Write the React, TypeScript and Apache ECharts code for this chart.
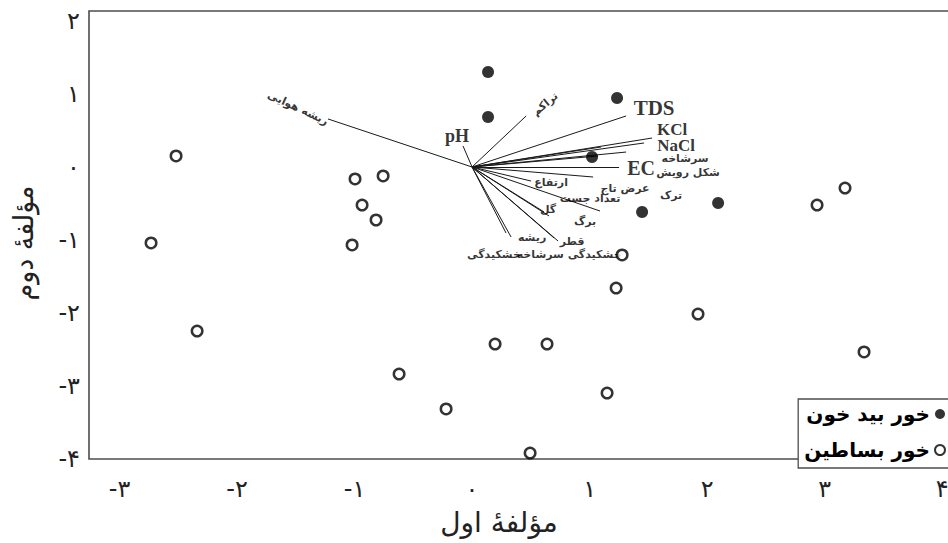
import React, { useEffect, useRef } from 'react';
import * as echarts from 'echarts';

const xTicks = [-3, -2, -1, 0, 1, 2, 3, 4];
const yTicks = [-4, -3, -2, -1, 0, 1, 2];
const seriesNames = ['خور بید خون', 'خور بساطین'];
const xTitle = 'مؤلفهٔ اول';
const yTitle = 'مؤلفهٔ دوم';

// خور بید خون (filled)
const bidKhun: [number, number][] = [
  [0.136, 1.301],
  [0.136, 0.685],
  [1.234, 0.945],
  [1.021, 0.137],
  [1.447, -0.616],
  [2.094, -0.493],
];

// خور بساطین (open)
const basatin: [number, number][] = [
  [-2.519, 0.151],
  [-2.732, -1.041],
  [-2.34, -2.247],
  [-0.996, -0.164],
  [-0.757, -0.123],
  [-0.936, -0.521],
  [-0.817, -0.726],
  [-1.021, -1.068],
  [1.277, -1.205],
  [1.226, -1.658],
  [1.923, -2.014],
  [0.196, -2.425],
  [0.638, -2.425],
  [-0.621, -2.836],
  [1.149, -3.096],
  [-0.221, -3.315],
  [0.494, -3.918],
  [2.936, -0.521],
  [3.174, -0.288],
  [3.336, -2.534],
];

const variableNames = [
  'ریشه هوایی', 'pH', 'تراکم', 'TDS', 'KCl', 'NaCl', 'شکل رویش', 'سرشاخه', 'ترک', 'EC',
  'عرض تاج', 'ارتفاع', 'تعداد جست', 'گل', 'برگ', 'قطر', 'خشکیدگی سرشاخه', 'ریشه', 'خشکیدگی',
];

const loadings: [number, number][] = [
  [-1.226, 0.658], [-0.077, 0.288], [0.46, 0.699], [1.311, 0.699], [1.532, 0.397],
  [1.464, 0.329], [1.098, 0.274], [1.311, 0.205], [1.072, 0.151], [1.251, 0.0],
  [1.03, -0.137], [0.502, -0.192], [1.089, -0.603], [0.613, -0.616], [0.655, -0.671],
  [0.732, -1.014], [0.698, -0.973], [0.332, -0.959], [0.289, -0.904],
];

const labelAnchors: [number, number][] = [
  [-1.481, 0.808], [-0.128, 0.425], [0.621, 0.863], [1.549, 0.808], [1.702, 0.52],
  [1.736, 0.3], [1.838, -0.082], [1.813, 0.11], [1.694, -0.397], [1.438, -0.014],
  [1.302, -0.288], [0.672, -0.219], [1.004, -0.438], [0.647, -0.589], [0.962, -0.74],
  [0.851, -1.027], [0.826, -1.205], [0.511, -0.959], [0.187, -1.205],
];

const labelAngles = [-25, 0, 40, 0, 0, 0, 0, 0, 0, 0, 0, 0, 0, 0, 0, 0, 0, 0, 0];

const latinSizes: Record<string, number> = { pH: 18, TDS: 21, KCl: 17, NaCl: 17, EC: 20 };

const toPersian = (v: number) => {
  const s = String(Math.abs(v)).replace(/\d/g, (d) => '۰۱۲۳۴۵۶۷۸۹'[Number(d)]);
  return '\u200E' + (v < 0 ? '-' + s : s);
};

const ARABIC_FONT = '"DejaVu Sans", sans-serif';
const LATIN_FONT = '"Liberation Serif", "DejaVu Serif", serif';

export default function App() {
  const ref = useRef<HTMLDivElement>(null);
  useEffect(() => {
    if (!ref.current) return;
    const chart = echarts.init(ref.current, undefined, { renderer: 'svg' });
    const option: any = {
      animation: false,
      backgroundColor: '#fff',
      grid: {
        left: 89,
        top: 11,
        width: 870.7,
        height: 448,
        show: true,
        borderColor: '#4d4d4d',
        borderWidth: 1.6,
        outerBoundsMode: 'none',
        containLabel: false,
      },
      xAxis: {
        type: 'value',
        min: -3.26,
        max: 4.15,
        axisLine: { show: false },
        axisTick: { show: false },
        splitLine: { show: false },
        axisLabel: {
          customValues: xTicks,
          formatter: (v: number) => toPersian(v),
          fontFamily: ARABIC_FONT,
          fontSize: 24,
          color: '#222',
          margin: 18,
        },
      },
      yAxis: {
        type: 'value',
        min: -4,
        max: 2.137,
        axisLine: { show: false },
        axisTick: { show: false },
        splitLine: { show: false },
        axisLabel: {
          customValues: yTicks,
          formatter: (v: number) => toPersian(v),
          fontFamily: ARABIC_FONT,
          fontSize: 24,
          color: '#222',
          margin: 9,
        },
      },
      legend: {
        data: [
          { name: seriesNames[0], itemStyle: { color: '#000', borderWidth: 0 } },
          { name: seriesNames[1], itemStyle: { color: '#fff', borderColor: '#000', borderWidth: 2 } },
        ],
        orient: 'vertical',
        right: -14,
        top: 399,
        align: 'right',
        icon: 'circle',
        itemWidth: 10,
        itemHeight: 10,
        itemGap: 16,
        padding: [5, 16, 8, 6],
        borderColor: '#4d4d4d',
        borderWidth: 1.3,
        backgroundColor: '#fff',
        textStyle: { fontFamily: ARABIC_FONT, fontSize: 20, fontWeight: 'bold', color: '#000' },
      },
      graphic: [
        {
          type: 'text',
          x: 499,
          y: 522,
          style: {
            text: xTitle,
            fontFamily: ARABIC_FONT,
            fontSize: 28,
            fill: '#222',
            align: 'center',
            verticalAlign: 'middle',
          },
        },
        {
          type: 'text',
          x: 23,
          y: 243,
          rotation: Math.PI / 2,
          style: {
            text: yTitle,
            fontFamily: ARABIC_FONT,
            fontSize: 27,
            fill: '#222',
            align: 'center',
            verticalAlign: 'middle',
          },
        },
      ],
      series: [
        {
          name: 'vectors',
          type: 'lines',
          coordinateSystem: 'cartesian2d',
          silent: true,
          z: 2,
          lineStyle: { color: '#1a1a1a', width: 1, opacity: 1 },
          data: loadings.map((p) => ({ coords: [[0, 0], p] })),
        },
        {
          name: 'vectorLabels',
          type: 'scatter',
          silent: true,
          symbolSize: 0,
          z: 3,
          label: {
            show: true,
            position: 'inside',
            formatter: '{b}',
            color: '#000',
          },
          data: variableNames.map((n, i) => {
            const latin = latinSizes[n] !== undefined;
            return {
              name: n,
              value: labelAnchors[i],
              label: {
                rotate: labelAngles[i],
                fontFamily: latin ? LATIN_FONT : ARABIC_FONT,
                fontSize: latin ? latinSizes[n] : 11,
                lineHeight: latin ? 13 : 12,
                fontWeight: 'bold',
                color: '#000',
              },
            };
          }),
        },
        {
          name: seriesNames[0],
          type: 'scatter',
          symbol: 'circle',
          symbolSize: 12,
          z: 4,
          itemStyle: { color: '#000' },
          data: bidKhun,
        },
        {
          name: seriesNames[1],
          type: 'scatter',
          symbol: 'circle',
          symbolSize: 10.5,
          z: 4,
          itemStyle: { color: '#fff', borderColor: '#000', borderWidth: 2.5 },
          data: basatin,
        },
      ],
    };
    chart.setOption(option);
    return () => chart.dispose();
  }, []);
  return (
    <div
      ref={ref}
      style={{ position: 'fixed', left: 0, top: 0, width: 948, height: 543, background: '#fff' }}
    />
  );
}
